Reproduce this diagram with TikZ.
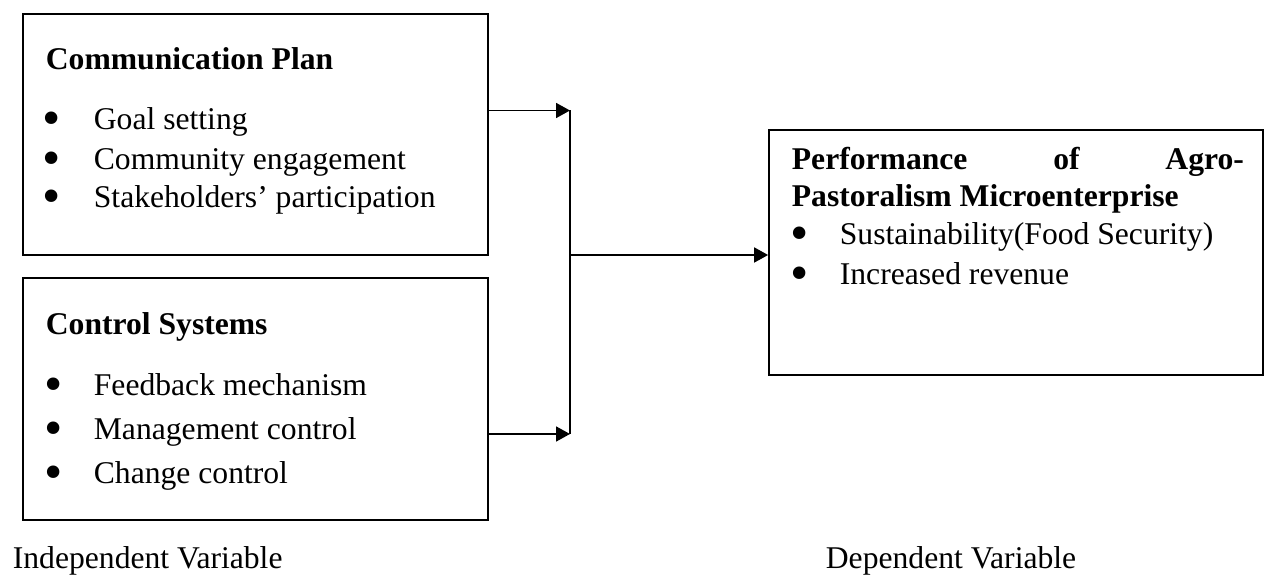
\documentclass[tikz,border=0pt]{standalone}
\usepackage{fontspec}
\setmainfont{Liberation Serif}
\usepackage{tikz}
\usetikzlibrary{arrows.meta,calc}
\newcommand{\bigbul}{\raisebox{-0.17em}[0pt][0pt]{\scalebox{1.65}{•}}}

\begin{document}
\begin{tikzpicture}[-, line width=1pt, box node/.style={rectangle, draw, inner sep=0, line width=1pt}, text node/.style={anchor=base west, inner sep=0, font=\fontsize{18}{21}\selectfont}, head node/.style={text node, font=\fontsize{18}{21}\selectfont\bfseries}, arr/.style={-{Triangle[length=0.28cm,width=0.3cm]}}]
\useasboundingbox (0,0) rectangle (25.28,-11.5);
\node[box node, minimum width=9.3cm, minimum height=4.82cm] (plan) at (5.11,-2.69) {};
\node[box node, minimum width=9.3cm, minimum height=4.84cm] (ctrl) at (5.11,-7.98) {};
\node[box node, minimum width=9.88cm, minimum height=4.9cm] (perf) at (20.32,-5.05) {};
% communication plan
\node[head node] (plantitle) at (0.9,-1.4) {Communication Plan};
\node[text node] (pb1) at (0.84,-2.6) {\bigbul};
\node[text node] (p1) at (1.86,-2.6) {Goal setting};
\node[text node] (pb2) at (0.84,-3.4) {\bigbul};
\node[text node] (p2) at (1.86,-3.4) {Community engagement};
\node[text node] (pb3) at (0.84,-4.16) {\bigbul};
\node[text node] (p3) at (1.86,-4.16) {Stakeholders’ participation};
% control systems
\node[head node] (ctrltitle) at (0.9,-6.7) {Control Systems};
\node[text node] (cb1) at (0.88,-7.92) {\bigbul};
\node[text node] (c1) at (1.86,-7.92) {Feedback mechanism};
\node[text node] (cb2) at (0.88,-8.8) {\bigbul};
\node[text node] (c2) at (1.86,-8.8) {Management control};
\node[text node] (cb3) at (0.88,-9.68) {\bigbul};
\node[text node] (c3) at (1.86,-9.68) {Change control};
% performance
\node[head node] (perftitle) at (15.82,-3.4) {\hbox to 9.04cm{Performance\hfill of\hfill Agro-}};
\node[head node] (perftitle2) at (15.82,-4.14) {Pastoralism Microenterprise};
\node[text node] (fb1) at (15.8,-4.9) {\bigbul};
\node[text node] (f1) at (16.78,-4.9) {Sustainability(Food Security)};
\node[text node] (fb2) at (15.8,-5.7) {\bigbul};
\node[text node] (f2) at (16.78,-5.7) {Increased revenue};
\node[text node] (indep) at (0.24,-11.38) {Independent Variable};
\node[text node] (dep) at (16.5,-11.38) {Dependent Variable};
\coordinate (jtop) at (11.4,-2.21);
\coordinate (jbot) at (11.4,-8.68);
\coordinate (jmid) at (11.4,-5.1);
\draw[arr] (plan.east |- jtop) -- (jtop);
\draw[arr] (ctrl.east |- jbot) -- (jbot);
\draw (jtop) -- (jbot);
\draw[arr] (jmid) -- (jmid -| perf.west);
\end{tikzpicture}
\end{document}
